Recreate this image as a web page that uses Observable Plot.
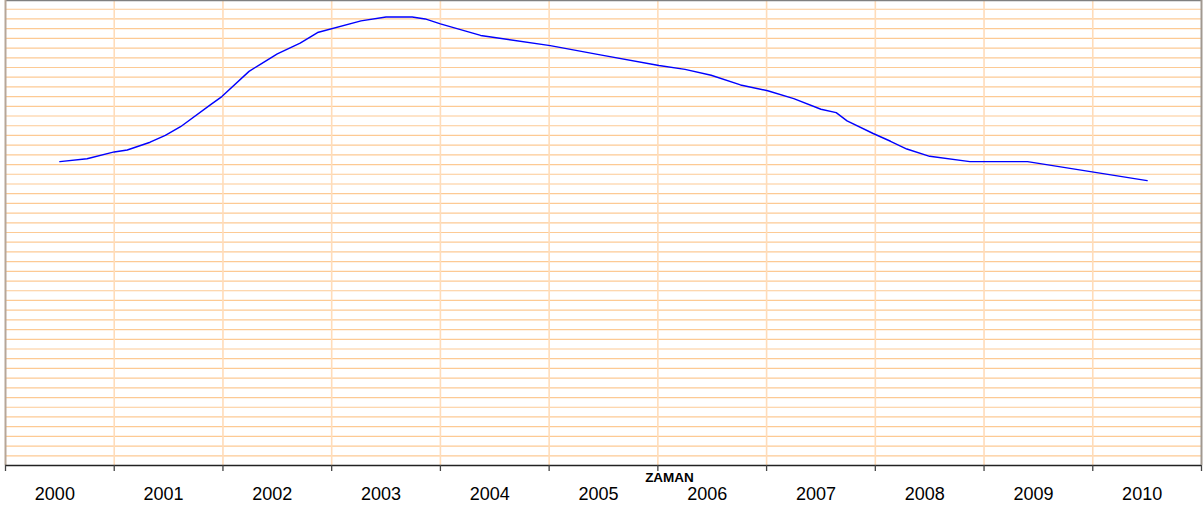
<!DOCTYPE html>
<html>
<head>
<meta charset="utf-8">
<script src="https://cdn.jsdelivr.net/npm/d3@7"></script>
<script src="https://cdn.jsdelivr.net/npm/@observablehq/plot@0.6"></script>
<style>
  html, body { margin: 0; padding: 0; background: #ffffff; }
  svg { display: block; }
</style>
</head>
<body>
<div id="chart"></div>
<script>
// Time positions (decimal years) and series values (grid units)
const dates = [2000.0, 2000.25, 2000.5, 2000.62, 2000.83, 2000.97, 2001.11, 2001.39, 2001.49, 2001.74,
  2001.84, 2002.0, 2002.21, 2002.37, 2002.77, 2003.0, 2003.24, 2003.36, 2003.5, 2003.87,
  2004.51, 2004.97, 2005.51, 2005.75, 2005.99, 2006.26, 2006.51, 2006.75, 2007.0, 2007.14,
  2007.24, 2007.48, 2007.64, 2007.79, 2008.0, 2008.37, 2008.65, 2008.9, 2010.0];
const values = [31.3, 31.6, 32.3, 32.5, 33.3, 34.0, 34.9, 37.2, 38.0, 40.6,
  41.3, 42.4, 43.5, 44.6, 45.8, 46.2, 46.2, 46.0, 45.5, 44.3,
  43.25, 42.3, 41.2, 40.8, 40.2, 39.2, 38.6, 37.8, 36.7, 36.35,
  35.5, 34.2, 33.4, 32.6, 31.85, 31.3, 31.3, 31.3, 29.35];
const years = [2000, 2001, 2002, 2003, 2004, 2005, 2006, 2007, 2008, 2009, 2010];
const yearLabels = ["2000", "2001", "2002", "2003", "2004", "2005", "2006", "2007", "2008", "2009", "2010"];
const gridValues = d3.range(1, 48);
const xTitle = "ZAMAN";

const yMax = 47.9;
const boundaries = years.map(y => y - 0.5).concat([years[years.length - 1] + 0.5]);
const interior = boundaries.slice(1, -1);
const data = dates.map((d, i) => ({date: d, value: values[i]}));
const font = "'Liberation Sans', Arial, sans-serif";

const chart = Plot.plot({
  width: 1203,
  height: 514,
  marginLeft: 5,
  marginRight: 2,
  marginTop: 0,
  marginBottom: 49,
  style: {background: "#ffffff", fontFamily: font},
  x: {domain: [boundaries[0], boundaries[boundaries.length - 1]], axis: null},
  y: {domain: [0, yMax], axis: null},
  marks: [
    Plot.ruleY(gridValues, {stroke: "#fdca94", strokeWidth: 1.2}),
    Plot.ruleX(interior, {stroke: "#ffdcb9", strokeWidth: 1.6}),
    Plot.ruleY([yMax], {stroke: "#808080", strokeWidth: 1.5}),
    Plot.ruleX([boundaries[0]], {stroke: "#b6a698", strokeWidth: 2}),
    Plot.ruleX([boundaries[boundaries.length - 1]], {stroke: "#a09890", strokeWidth: 2}),
    Plot.line(data, {x: "date", y: "value", stroke: "#0000ff", strokeWidth: 1.4}),
    Plot.ruleY([0], {stroke: "#222222", strokeWidth: 1.5}),
    Plot.tickX(boundaries, {x: d => d, frameAnchor: "bottom", stroke: "#444444", strokeWidth: 1.3, y: null}),
    Plot.text(years, {x: d => d, text: (d, i) => yearLabels[i], frameAnchor: "bottom", lineAnchor: "bottom", dy: 34, dx: -5, fontSize: 18, fill: "#000000"}),
    Plot.text([xTitle], {frameAnchor: "bottom", lineAnchor: "bottom", dy: 16, dx: 66, fontSize: 13.5, fontWeight: "bold", fill: "#000000"})
  ]
});
document.getElementById("chart").appendChild(chart);

// extend boundary ticks below the axis line
d3.select(chart).selectAll("g[aria-label='tick'] line").each(function() {
  const y2 = +this.getAttribute("y2");
  this.setAttribute("y1", y2);
  this.setAttribute("y2", y2 + 6);
});
</script>
</body>
</html>
